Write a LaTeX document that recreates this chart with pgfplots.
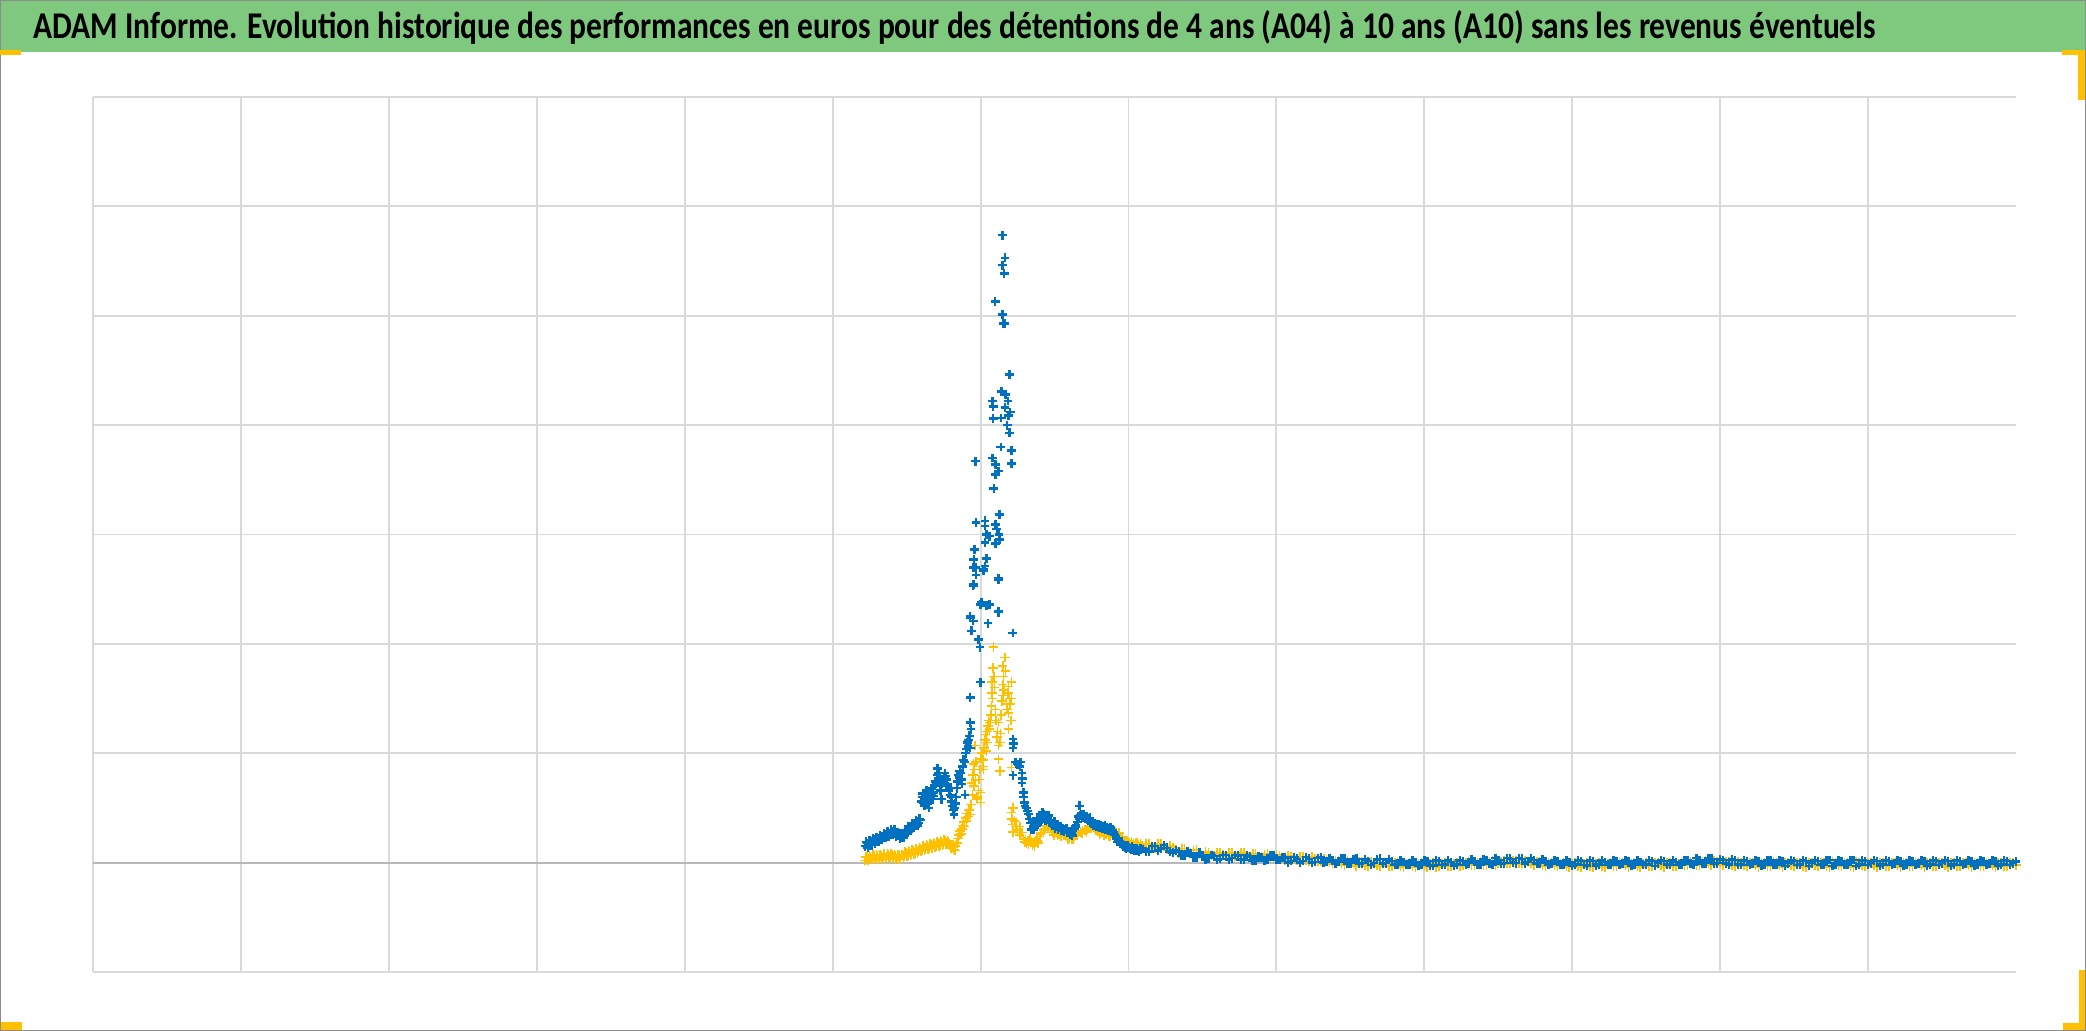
\documentclass[border=0pt]{standalone}
\usepackage{pgfplots}
\pgfplotsset{compat=1.18}
\usepackage{fontspec}
\setmainfont{Carlito}
\definecolor{barGreen}{RGB}{127,201,127}
\definecolor{acc}{RGB}{255,192,0}
\definecolor{serBlue}{RGB}{0,112,192}
\definecolor{serGold}{RGB}{255,192,0}
\definecolor{gridc}{RGB}{217,217,217}
\begin{document}
\begin{tikzpicture}
\useasboundingbox (0,0) rectangle (20.86,-10.31);
\fill[white] (0,0) rectangle (20.86,-10.31);
\fill[barGreen] (0,0) rectangle (20.86,-0.52);
\node[anchor=base west, inner sep=0pt] at (0.33,-0.386) {\scalebox{1}[1.2]{\resizebox{18.42cm}{!}{\bfseries ADAM Informe. Evolution historique des performances en euros pour des détentions de 4 ans (A04) à 10 ans (A10) sans les revenus éventuels}}};
\begin{axis}[at={(0.93cm,-9.72cm)}, anchor=south west, width=19.23cm, height=8.75cm, scale only axis,
  xmin=0, xmax=13, ymin=-1, ymax=7,
  xtick={0,...,12}, ytick={-1,...,7}, xticklabels={}, yticklabels={},
  major tick length=0pt, axis line style={draw=none},
  grid=major, major grid style={gridc, line width=0.55pt},
  extra y ticks={0}, extra y tick labels={},
  extra y tick style={major grid style={black!28, line width=0.6pt}},
  clip=false]
% gold series
\addplot[only marks, mark=+, mark size=1.35pt, serGold, line width=0.45pt] coordinates {
(5.220,0.02)(5.232,0.05)(5.244,0.03)(5.256,0.05)(5.268,0.03)(5.280,0.06)(5.292,0.04)(5.304,0.06)(5.316,0.04)(5.328,0.06)(5.340,0.04)(5.352,0.07)(5.364,0.05)(5.376,0.07)(5.388,0.05)(5.400,0.07)(5.412,0.05)(5.424,0.06)(5.436,0.04)(5.448,0.06)(5.460,0.04)(5.472,0.07)(5.484,0.06)(5.496,0.09)(5.508,0.07)(5.520,0.10)(5.532,0.08)(5.544,0.11)(5.556,0.09)(5.568,0.12)(5.580,0.10)(5.592,0.13)(5.604,0.11)(5.616,0.14)(5.628,0.12)(5.640,0.15)(5.652,0.13)(5.664,0.16)(5.676,0.14)(5.688,0.17)(5.700,0.15)(5.712,0.18)(5.724,0.16)(5.736,0.19)(5.748,0.17)(5.760,0.20)(5.772,0.18)(5.784,0.19)(5.796,0.15)(5.808,0.14)(5.820,0.12)(5.832,0.15)(5.840,0.18)(5.848,0.22)(5.856,0.25)(5.862,0.29)(5.868,0.26)(5.874,0.31)(5.880,0.34)(5.886,0.37)(5.892,0.33)(5.898,0.41)(5.904,0.38)(5.910,0.45)(5.916,0.42)(5.922,0.48)(5.928,0.44)(5.934,0.53)
(5.226,0.05)(5.238,0.02)(5.250,0.06)(5.262,0.03)(5.274,0.07)(5.286,0.03)(5.298,0.07)(5.310,0.03)(5.322,0.07)(5.334,0.04)(5.346,0.08)(5.358,0.04)(5.370,0.08)(5.382,0.04)(5.394,0.08)(5.406,0.04)(5.418,0.07)(5.430,0.03)(5.442,0.07)(5.454,0.03)(5.466,0.07)(5.478,0.05)(5.490,0.10)(5.502,0.06)(5.514,0.11)(5.526,0.07)(5.538,0.12)(5.550,0.08)(5.562,0.13)(5.574,0.09)(5.586,0.14)(5.598,0.10)(5.610,0.15)(5.622,0.11)(5.634,0.16)(5.646,0.12)(5.658,0.17)(5.670,0.13)(5.682,0.18)(5.694,0.14)(5.706,0.19)(5.718,0.15)(5.730,0.20)(5.742,0.16)(5.754,0.21)(5.766,0.17)(5.778,0.20)(5.790,0.17)(5.802,0.13)(5.814,0.16)(5.826,0.11)
(5.940,0.73)(5.945,0.62)(5.950,0.80)(5.952,0.90)(5.955,0.70)(5.960,0.85)(5.963,1.07)(5.965,0.75)(5.970,0.92)(5.975,0.60)(5.980,0.58)(5.985,0.66)(5.990,0.76)(5.995,0.85)(6.000,0.55)(6.000,0.64)(6.005,0.95)(6.010,1.00)(6.015,0.88)(6.020,0.94)(6.020,0.85)(6.025,1.05)(6.030,1.12)(6.035,1.17)(6.040,1.02)(6.042,1.10)(6.045,1.20)(6.050,1.25)(6.055,1.30)(6.060,1.22)(6.065,1.28)(6.070,1.35)(6.075,1.43)(6.076,1.55)(6.078,1.65)(6.080,1.50)(6.085,1.78)(6.087,1.97)(6.090,1.70)(6.095,1.60)(6.100,1.40)(6.105,1.30)(6.110,1.15)(6.115,1.20)(6.120,1.07)(6.120,1.28)(6.120,0.945)(6.130,0.84)(6.130,1.10)(6.135,1.18)(6.140,1.35)(6.145,1.48)(6.150,1.53)(6.150,1.63)(6.150,1.80)(6.155,1.70)(6.160,1.58)(6.166,1.875)(6.170,1.75)(6.175,1.45)(6.180,1.40)(6.185,1.55)(6.190,1.37)(6.190,1.61)(6.190,1.22)(6.195,1.50)(6.200,1.45)(6.205,1.30)(6.210,1.65)(6.210,1.50)(6.210,0.87)(6.210,0.46)(6.212,0.40)(6.215,0.35)(6.220,0.28)(6.220,0.50)(6.230,0.38)(6.240,0.33)(6.250,0.30)(6.265,0.25)(6.265,0.33)(6.280,0.275)(6.290,0.22)(6.300,0.19)(6.310,0.18)(6.320,0.20)(6.335,0.215)(6.350,0.16)(6.360,0.18)(6.370,0.19)(6.380,0.21)(6.390,0.18)(6.400,0.24)(6.410,0.275)(6.425,0.275)(6.440,0.31)(6.450,0.335)(6.460,0.31)(6.470,0.35)(6.480,0.30)(6.490,0.275)(6.500,0.29)(6.510,0.275)(6.520,0.25)(6.530,0.26)(6.545,0.24)(6.560,0.275)(6.570,0.25)(6.580,0.24)(6.590,0.21)(6.600,0.22)(6.617,0.215)(6.630,0.24)(6.640,0.25)(6.650,0.27)(6.660,0.275)(6.675,0.28)(6.690,0.29)(6.705,0.30)(6.720,0.305)(6.735,0.32)(6.750,0.34)(6.760,0.335)(6.770,0.31)(6.780,0.31)(6.790,0.29)(6.800,0.29)(6.810,0.27)(6.820,0.275)(6.835,0.25)(6.850,0.26)(6.865,0.245)(6.880,0.27)(6.895,0.25)(6.910,0.28)(6.920,0.275)(6.930,0.25)(6.940,0.24)(6.950,0.22)(6.960,0.215)(6.975,0.20)(6.990,0.20)(7.005,0.18)(7.020,0.19)(7.035,0.17)(7.050,0.18)(7.065,0.16)(7.080,0.17)
(6.305,0.21)(6.325,0.17)(6.345,0.19)(6.365,0.15)(6.385,0.20)(6.405,0.26)(6.430,0.30)(6.455,0.31)(6.475,0.32)(6.495,0.25)(6.515,0.29)(6.540,0.26)(6.565,0.25)(6.595,0.24)(6.625,0.21)(6.655,0.25)(6.685,0.27)(6.715,0.28)(6.745,0.31)(6.775,0.33)(6.805,0.26)(6.840,0.27)(6.875,0.24)(6.905,0.26)(6.935,0.27)(6.965,0.19)(6.995,0.18)(7.030,0.16)(7.060,0.18)(7.090,0.15)
(7.12,0.17)(7.16,0.14)(7.20,0.17)(7.24,0.15)(7.28,0.15)(7.32,0.12)(7.36,0.13)(7.40,0.10)(7.44,0.11)(7.48,0.08)(7.52,0.10)(7.56,0.07)(7.60,0.09)(7.64,0.07)(7.68,0.09)(7.72,0.06)(7.76,0.09)(7.80,0.06)(7.84,0.08)(7.88,0.05)(7.92,0.07)(7.96,0.05)(8.00,0.07)(8.04,0.03)(8.08,0.06)(8.12,0.03)(8.16,0.05)(8.20,0.02)(8.24,0.05)(8.28,0.01)(8.32,0.04)(8.36,0.00)(8.40,0.02)(8.44,-0.01)(8.48,0.02)(8.52,-0.01)(8.56,0.01)(8.60,-0.02)(8.64,0.01)(8.68,-0.02)(8.72,0.00)(8.76,-0.03)(8.80,0.00)(8.84,-0.03)(8.88,-0.01)(8.92,-0.03)(8.96,-0.01)(9.00,-0.03)(9.04,-0.01)(9.08,-0.04)(9.12,-0.01)(9.16,-0.03)(9.20,-0.01)(9.24,-0.03)(9.28,0.00)(9.32,-0.02)(9.36,0.00)(9.40,-0.02)(9.44,0.01)(9.48,-0.02)(9.52,0.01)(9.56,-0.01)(9.60,0.02)(9.64,-0.01)(9.68,0.02)(9.72,-0.01)(9.76,0.01)(9.80,-0.02)(9.84,0.00)(9.88,-0.02)(9.92,-0.01)(9.96,-0.03)(10.00,-0.01)(10.04,-0.03)(10.08,-0.01)(10.12,-0.03)(10.16,-0.01)(10.20,-0.03)(10.24,-0.01)(10.28,-0.03)(10.32,0.00)(10.36,-0.02)(10.40,-0.01)(10.44,-0.03)(10.48,-0.01)(10.52,-0.03)(10.56,0.00)(10.60,-0.02)(10.64,0.00)(10.68,-0.03)(10.72,-0.01)(10.76,-0.02)(10.80,0.01)(10.84,-0.02)(10.88,0.01)(10.92,-0.01)(10.96,0.02)(11.00,-0.01)(11.04,0.01)(11.08,-0.02)(11.12,0.01)(11.16,-0.02)(11.20,0.00)(11.24,-0.02)(11.28,0.00)(11.32,-0.03)(11.36,0.01)(11.40,-0.02)(11.44,0.00)(11.48,-0.02)(11.52,0.00)(11.56,-0.03)(11.60,0.00)(11.64,-0.02)(11.68,0.00)(11.72,-0.03)(11.76,0.01)(11.80,-0.02)(11.84,0.00)(11.88,-0.03)(11.92,0.01)(11.96,-0.02)(12.00,0.00)(12.04,-0.02)(12.08,0.00)(12.12,-0.03)(12.16,0.00)(12.20,-0.02)(12.24,0.00)(12.28,-0.03)(12.32,0.00)(12.36,-0.02)(12.40,0.00)(12.44,-0.03)(12.48,0.00)(12.52,-0.02)(12.56,0.00)(12.60,-0.03)(12.64,0.00)(12.68,-0.02)(12.72,0.00)(12.76,-0.03)(12.80,0.00)(12.84,-0.02)(12.88,0.00)(12.92,-0.03)(12.96,0.00)(13.00,-0.02)
(7.10,0.13)(7.14,0.17)(7.18,0.13)(7.22,0.17)(7.26,0.12)(7.30,0.14)(7.34,0.09)(7.38,0.13)(7.42,0.09)(7.46,0.12)(7.50,0.06)(7.54,0.09)(7.58,0.06)(7.62,0.09)(7.66,0.06)(7.70,0.09)(7.74,0.06)(7.78,0.09)(7.82,0.05)(7.86,0.08)(7.90,0.05)(7.94,0.08)(7.98,0.04)(8.02,0.06)(8.06,0.02)(8.10,0.05)(8.14,0.02)(8.18,0.05)(8.22,0.01)(8.26,0.04)(8.30,0.01)(8.34,0.03)(8.38,-0.01)(8.42,0.02)(8.46,-0.02)(8.50,0.01)(8.54,-0.03)(8.58,0.01)(8.62,-0.03)(8.66,0.00)(8.70,-0.03)(8.74,0.00)(8.78,-0.03)(8.82,0.00)(8.86,-0.04)(8.90,0.00)(8.94,-0.04)(8.98,0.00)(9.02,-0.04)(9.06,0.00)(9.10,-0.03)(9.14,0.00)(9.18,-0.03)(9.22,0.00)(9.26,-0.02)(9.30,0.01)(9.34,-0.02)(9.38,0.01)(9.42,-0.02)(9.46,0.02)(9.50,-0.01)(9.54,0.02)(9.58,-0.01)(9.62,0.02)(9.66,-0.01)(9.70,0.01)(9.74,-0.02)(9.78,0.01)(9.82,-0.03)(9.86,0.00)(9.90,-0.03)(9.94,0.00)(9.98,-0.04)(10.02,0.00)(10.06,-0.04)(10.10,0.00)(10.14,-0.04)(10.18,0.00)(10.22,-0.04)(10.26,0.00)(10.30,-0.03)(10.34,0.00)(10.38,-0.04)(10.42,0.00)(10.46,-0.04)(10.50,0.00)(10.54,-0.03)(10.58,0.00)(10.62,-0.04)(10.66,0.00)(10.70,-0.03)(10.74,0.00)(10.78,-0.02)(10.82,0.01)(10.86,-0.02)(10.90,0.02)(10.94,-0.02)(10.98,0.01)(11.02,-0.02)(11.06,0.01)(11.10,-0.03)(11.14,0.00)(11.18,-0.03)(11.22,0.00)(11.26,-0.04)(11.30,0.00)(11.34,-0.03)(11.38,0.00)(11.42,-0.04)(11.46,0.00)(11.50,-0.03)(11.54,0.00)(11.58,-0.04)(11.62,0.00)(11.66,-0.03)(11.70,0.00)(11.74,-0.04)(11.78,0.00)(11.82,-0.03)(11.86,0.00)(11.90,-0.04)(11.94,0.00)(11.98,-0.03)(12.02,0.00)(12.06,-0.04)(12.10,0.00)(12.14,-0.03)(12.18,0.00)(12.22,-0.04)(12.26,0.00)(12.30,-0.03)(12.34,0.00)(12.38,-0.04)(12.42,0.00)(12.46,-0.03)(12.50,0.00)(12.54,-0.04)(12.58,0.00)(12.62,-0.03)(12.66,0.00)(12.70,-0.04)(12.74,0.00)(12.78,-0.03)(12.82,0.00)(12.86,-0.04)(12.90,0.00)(12.94,-0.03)(12.98,0.00)
};
% blue series
\addplot[only marks, mark=+, mark size=1.25pt, serBlue, line width=0.7pt] coordinates {
(5.220,0.15)(5.232,0.18)(5.244,0.16)(5.256,0.19)(5.268,0.18)(5.280,0.21)(5.292,0.19)(5.304,0.22)(5.316,0.21)(5.328,0.24)(5.340,0.23)(5.352,0.26)(5.364,0.24)(5.376,0.27)(5.388,0.26)(5.400,0.29)(5.412,0.27)(5.424,0.28)(5.436,0.25)(5.448,0.27)(5.460,0.23)(5.472,0.26)(5.484,0.25)(5.496,0.29)(5.508,0.28)(5.520,0.32)(5.532,0.31)(5.544,0.35)(5.556,0.34)(5.568,0.38)(5.580,0.36)(5.592,0.39)
(5.226,0.19)(5.238,0.14)(5.250,0.20)(5.262,0.16)(5.274,0.22)(5.286,0.17)(5.298,0.23)(5.310,0.19)(5.322,0.25)(5.334,0.21)(5.346,0.27)(5.358,0.23)(5.370,0.29)(5.382,0.24)(5.394,0.30)(5.406,0.26)(5.418,0.30)(5.430,0.24)(5.442,0.28)(5.454,0.22)(5.466,0.27)(5.478,0.23)(5.490,0.30)(5.502,0.26)(5.514,0.33)(5.526,0.29)(5.538,0.36)(5.550,0.32)(5.562,0.39)(5.574,0.34)(5.586,0.40)
(5.600,0.56)(5.605,0.60)(5.610,0.63)(5.615,0.55)(5.620,0.52)(5.625,0.58)(5.630,0.62)(5.635,0.66)(5.640,0.60)(5.645,0.54)(5.650,0.50)(5.655,0.57)(5.660,0.63)(5.665,0.68)(5.670,0.62)(5.675,0.58)(5.680,0.64)(5.685,0.61)(5.690,0.70)(5.695,0.74)(5.700,0.72)(5.705,0.80)(5.710,0.86)(5.715,0.82)(5.720,0.76)(5.725,0.70)(5.730,0.66)(5.735,0.58)(5.740,0.72)(5.745,0.76)(5.750,0.74)(5.755,0.78)(5.760,0.82)(5.765,0.79)(5.770,0.76)(5.775,0.72)(5.780,0.70)(5.785,0.66)(5.790,0.68)(5.795,0.62)(5.800,0.60)(5.805,0.56)(5.810,0.52)(5.815,0.48)(5.820,0.44)(5.825,0.50)(5.830,0.54)(5.835,0.60)(5.840,0.68)(5.845,0.74)(5.850,0.80)(5.855,0.78)(5.860,0.84)(5.865,0.82)(5.870,0.76)(5.875,0.72)(5.880,0.88)(5.885,0.94)(5.890,0.92)(5.895,0.62)(5.900,1.00)(5.905,1.04)(5.910,1.10)(5.915,1.06)(5.920,1.12)(5.925,1.16)(5.930,1.05)(5.930,1.28)(5.935,1.22)
(5.93,1.51)(6.00,1.65)(5.997,1.97)(5.986,2.04)(6.218,2.10)(5.94,2.12)(5.95,2.21)(5.93,2.24)(6.05,2.19)(6.12,2.30)(6.06,2.36)(6.008,2.38)(6.12,2.59)(5.952,2.545)(6.02,2.68)(5.952,2.70)(5.93,2.25)(6.00,2.36)(6.04,2.35)(6.12,2.29)(5.95,2.535)(6.12,2.60)(5.97,2.63)(6.02,2.67)(6.03,2.71)(5.965,2.70)(6.04,2.78)(5.955,2.77)(5.96,2.865)(6.03,2.925)(6.10,2.92)(6.06,2.985)(6.04,3.00)(6.127,2.956)(6.125,3.00)(6.11,3.05)(6.10,3.09)(6.03,3.08)(6.03,3.125)(5.97,3.11)(6.127,3.185)(6.09,3.42)(6.21,3.65)(6.10,3.55)(6.12,3.58)(6.10,3.64)(5.966,3.67)(6.08,3.70)(6.21,3.77)(6.137,3.80)(6.197,3.93)(6.18,4.00)(6.14,4.065)(6.085,4.06)(6.19,4.09)(6.20,4.12)(6.166,4.16)(6.085,4.17)(6.08,4.22)(6.185,4.22)(6.17,4.28)(6.141,4.306)(6.195,4.464)(6.166,4.93)(6.155,4.93)(6.148,5.013)(6.099,5.129)(6.16,5.385)(6.148,5.463)(6.166,5.53)(6.148,5.737)
(6.220,1.05)(6.222,1.09)(6.220,1.13)(6.235,0.92)(6.250,0.90)(6.265,0.88)(6.270,0.92)(6.220,0.80)(6.280,0.82)(6.282,0.77)(6.280,0.73)(6.290,0.64)(6.292,0.60)(6.295,0.55)(6.300,0.52)(6.310,0.50)(6.318,0.47)(6.325,0.445)(6.332,0.40)(6.340,0.36)(6.346,0.305)(6.355,0.33)(6.365,0.36)(6.375,0.38)(6.385,0.35)(6.395,0.40)(6.405,0.42)(6.415,0.39)(6.425,0.44)(6.435,0.42)(6.445,0.40)(6.455,0.42)(6.465,0.37)(6.475,0.38)(6.485,0.34)(6.495,0.36)(6.505,0.31)(6.515,0.33)(6.525,0.30)(6.535,0.32)(6.545,0.29)(6.555,0.31)(6.565,0.28)(6.575,0.30)(6.585,0.27)(6.595,0.29)(6.605,0.26)(6.615,0.27)(6.625,0.29)(6.635,0.31)(6.645,0.34)(6.655,0.37)(6.665,0.40)(6.670,0.52)(6.675,0.43)(6.685,0.41)(6.695,0.44)(6.705,0.40)(6.715,0.42)(6.725,0.38)(6.735,0.40)(6.745,0.36)(6.755,0.38)(6.765,0.34)(6.775,0.36)(6.785,0.33)(6.795,0.35)(6.805,0.32)(6.815,0.34)(6.825,0.31)(6.835,0.33)(6.845,0.30)(6.855,0.32)(6.865,0.29)(6.875,0.31)(6.885,0.28)(6.895,0.30)(6.905,0.26)(6.915,0.24)(6.925,0.19)(6.935,0.21)(6.945,0.17)(6.955,0.19)(6.965,0.15)(6.975,0.16)(6.985,0.13)(6.995,0.16)(7.010,0.13)(7.025,0.15)(7.040,0.11)(7.055,0.13)(7.070,0.10)(7.085,0.12)
(6.36,0.30)(6.38,0.41)(6.40,0.37)(6.42,0.46)(6.44,0.38)(6.46,0.43)(6.48,0.36)(6.50,0.38)(6.52,0.33)(6.54,0.33)(6.56,0.29)(6.58,0.31)(6.60,0.28)(6.62,0.25)(6.64,0.33)(6.66,0.42)(6.68,0.44)(6.70,0.43)(6.72,0.39)(6.74,0.41)(6.76,0.37)(6.78,0.35)(6.80,0.35)(6.82,0.33)(6.84,0.34)(6.86,0.31)(6.88,0.32)(6.90,0.28)(6.92,0.22)(6.94,0.19)(6.96,0.17)(6.98,0.14)(7.00,0.14)(7.02,0.12)(7.04,0.13)(7.06,0.11)(7.08,0.13)
(7.10,0.125)(7.14,0.10)(7.18,0.15)(7.22,0.13)(7.26,0.135)(7.30,0.09)(7.34,0.10)(7.38,0.065)(7.42,0.085)(7.46,0.05)(7.50,0.07)(7.54,0.04)(7.58,0.06)(7.62,0.035)(7.66,0.07)(7.70,0.04)(7.74,0.065)(7.78,0.03)(7.82,0.055)(7.86,0.02)(7.90,0.045)(7.94,0.025)(7.98,0.065)(8.02,0.025)(8.06,0.045)(8.10,0.015)(8.14,0.035)(8.18,0.015)(8.22,0.035)(8.26,0.005)(8.30,0.045)(8.34,0.005)(8.38,0.025)(8.42,0.005)(8.46,0.035)(8.50,-0.005)(8.54,0.035)(8.58,-0.005)(8.62,0.015)(8.66,-0.005)(8.70,0.035)(8.74,-0.005)(8.78,0.015)(8.82,-0.015)(8.86,0.005)(8.90,-0.015)(8.94,0.005)(8.98,-0.015)(9.02,0.015)(9.06,-0.025)(9.10,0.015)(9.14,-0.015)(9.18,0.005)(9.22,-0.015)(9.26,0.015)(9.30,-0.005)(9.34,0.015)(9.38,-0.015)(9.42,0.025)(9.46,-0.015)(9.50,0.025)(9.54,-0.005)(9.58,0.035)(9.62,-0.005)(9.66,0.035)(9.70,0.005)(9.74,0.025)(9.78,-0.005)(9.82,0.015)(9.86,-0.005)(9.90,0.015)(9.94,-0.015)(9.98,0.005)(10.02,-0.015)(10.06,0.015)(10.10,-0.025)(10.14,0.015)(10.18,-0.015)(10.22,0.005)(10.26,-0.015)(10.30,0.015)(10.34,-0.005)(10.38,0.015)(10.42,-0.015)(10.46,0.005)(10.50,-0.015)(10.54,0.015)(10.58,-0.005)(10.62,0.015)(10.66,-0.015)(10.70,0.005)(10.74,-0.015)(10.78,0.025)(10.82,-0.015)(10.86,0.025)(10.90,-0.005)(10.94,0.035)(10.98,-0.005)(11.02,0.025)(11.06,-0.015)(11.10,0.025)(11.14,-0.015)(11.18,0.015)(11.22,-0.005)(11.26,0.015)(11.30,-0.015)(11.34,0.025)(11.38,-0.015)(11.42,0.015)(11.46,-0.005)(11.50,0.015)(11.54,-0.015)(11.58,0.015)(11.62,-0.005)(11.66,0.015)(11.70,-0.015)(11.74,0.025)(11.78,-0.015)(11.82,0.015)(11.86,-0.015)(11.90,0.025)(11.94,-0.015)(11.98,0.015)(12.02,-0.005)(12.06,0.015)(12.10,-0.015)(12.14,0.015)(12.18,-0.005)(12.22,0.015)(12.26,-0.015)(12.30,0.015)(12.34,-0.005)(12.38,0.015)(12.42,-0.015)(12.46,0.015)(12.50,-0.005)(12.54,0.015)(12.58,-0.015)(12.62,0.015)(12.66,-0.005)(12.70,0.015)(12.74,-0.015)(12.78,0.015)(12.82,-0.005)(12.86,0.015)(12.90,-0.015)(12.94,0.015)(12.98,-0.005)
(7.12,0.10)(7.16,0.15)(7.20,0.11)(7.24,0.16)(7.28,0.10)(7.32,0.11)(7.36,0.06)(7.40,0.10)(7.44,0.05)(7.48,0.09)(7.52,0.03)(7.56,0.07)(7.60,0.03)(7.64,0.07)(7.68,0.03)(7.72,0.07)(7.76,0.03)(7.80,0.07)(7.84,0.02)(7.88,0.06)(7.92,0.02)(7.96,0.07)(8.00,0.03)(8.04,0.05)(8.08,0.00)(8.12,0.05)(8.16,0.00)(8.20,0.05)(8.24,0.00)(8.28,0.04)(8.32,0.00)(8.36,0.04)(8.40,-0.01)(8.44,0.04)(8.48,-0.01)(8.52,0.03)(8.56,-0.01)(8.60,0.03)(8.64,-0.02)(8.68,0.03)(8.72,-0.01)(8.76,0.03)(8.80,-0.02)(8.84,0.02)(8.88,-0.02)(8.92,0.02)(8.96,-0.03)(9.00,0.02)(9.04,-0.03)(9.08,0.02)(9.12,-0.02)(9.16,0.02)(9.20,-0.03)(9.24,0.02)(9.28,-0.02)(9.32,0.03)(9.36,-0.02)(9.40,0.03)(9.44,-0.01)(9.48,0.04)(9.52,-0.01)(9.56,0.04)(9.60,0.00)(9.64,0.04)(9.68,-0.01)(9.72,0.04)(9.76,-0.01)(9.80,0.03)(9.84,-0.02)(9.88,0.02)(9.92,-0.02)(9.96,0.02)(10.00,-0.03)(10.04,0.02)(10.08,-0.02)(10.12,0.02)(10.16,-0.03)(10.20,0.02)(10.24,-0.02)(10.28,0.02)(10.32,-0.02)(10.36,0.02)(10.40,-0.03)(10.44,0.02)(10.48,-0.02)(10.52,0.02)(10.56,-0.03)(10.60,0.02)(10.64,-0.02)(10.68,0.02)(10.72,-0.02)(10.76,0.02)(10.80,-0.01)(10.84,0.04)(10.88,-0.01)(10.92,0.04)(10.96,-0.01)(11.00,0.03)(11.04,-0.01)(11.08,0.03)(11.12,-0.02)(11.16,0.02)(11.20,-0.02)(11.24,0.02)(11.28,-0.03)(11.32,0.02)(11.36,-0.02)(11.40,0.02)(11.44,-0.03)(11.48,0.02)(11.52,-0.02)(11.56,0.02)(11.60,-0.03)(11.64,0.02)(11.68,-0.02)(11.72,0.02)(11.76,-0.03)(11.80,0.02)(11.84,-0.02)(11.88,0.02)(11.92,-0.03)(11.96,0.02)(12.00,-0.02)(12.04,0.02)(12.08,-0.03)(12.12,0.02)(12.16,-0.02)(12.20,0.02)(12.24,-0.03)(12.28,0.02)(12.32,-0.02)(12.36,0.02)(12.40,-0.03)(12.44,0.02)(12.48,-0.02)(12.52,0.02)(12.56,-0.03)(12.60,0.02)(12.64,-0.02)(12.68,0.02)(12.72,-0.03)(12.76,0.02)(12.80,-0.02)(12.84,0.02)(12.88,-0.03)(12.92,0.02)(12.96,-0.02)(13.00,0.01)
};
\end{axis}
\draw[black!45, line width=0.4pt] (0.007,-0.007) rectangle (20.853,-10.303);
\fill[acc] (0,-0.50) rectangle (0.21,-0.55);
\fill[acc] (20.62,-0.50) rectangle (20.85,-0.55);
\fill[acc] (20.78,-0.50) rectangle (20.85,-1.00);
\fill[acc] (20.79,-9.70) rectangle (20.85,-10.30);
\fill[acc] (20.63,-10.23) rectangle (20.85,-10.30);
\fill[acc] (0.01,-10.22) rectangle (0.22,-10.30);
\end{tikzpicture}
\end{document}
